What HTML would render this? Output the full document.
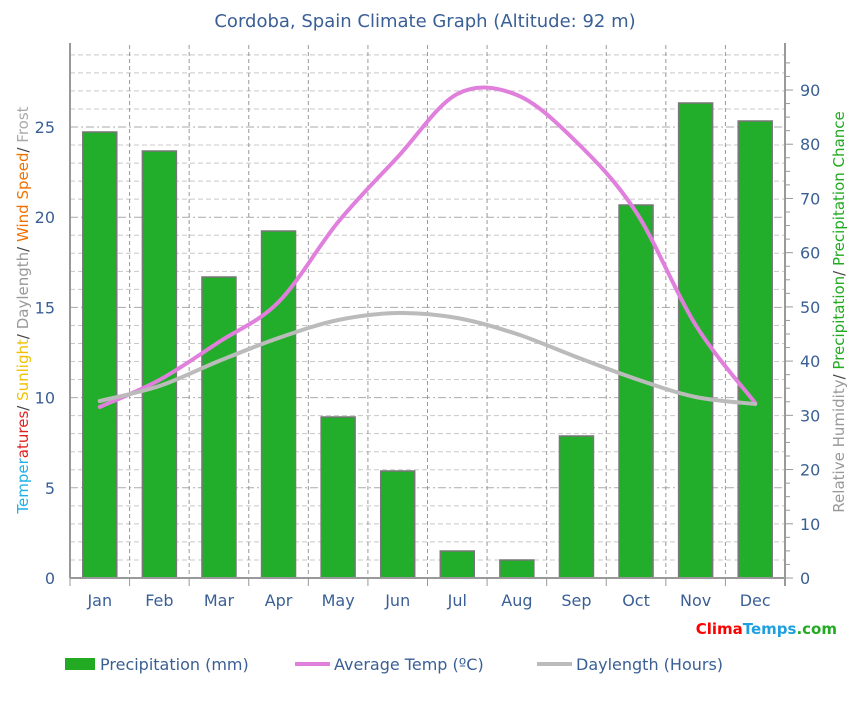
<!DOCTYPE html>
<html><head><meta charset="utf-8"><style>
body{margin:0;background:#fff;}
svg{display:block;font-family:"DejaVu Sans","Liberation Sans",sans-serif;}
</style></head><body>
<svg id="s" width="851" height="719" viewBox="0 0 851 719" xmlns="http://www.w3.org/2000/svg">
<rect width="851" height="719" fill="#fff"/>
<text x="425" y="27" text-anchor="middle" font-size="18" fill="#3a5f95">Cordoba, Spain Climate Graph (Altitude: 92 m)</text>
<g id="grid"></g>
<g id="bars"></g>
<path id="tline" fill="none" stroke="#e080dc" stroke-width="4" stroke-linecap="round"/>
<path id="dline" fill="none" stroke="#bbbbbb" stroke-width="4" stroke-linecap="round"/>
<g id="axes"></g>
<text transform="translate(28,310) rotate(-90)" text-anchor="middle" font-size="15"><tspan fill="#20b0e8">Temper</tspan><tspan fill="#e02020">atures</tspan><tspan fill="#444">/ </tspan><tspan fill="#f0c000">Sunlight</tspan><tspan fill="#444">/ </tspan><tspan fill="#999">Daylength</tspan><tspan fill="#444">/ </tspan><tspan fill="#f07000">Wind Speed</tspan><tspan fill="#444">/ </tspan><tspan fill="#aaa">Frost</tspan></text>
<text transform="translate(844,312) rotate(-90)" text-anchor="middle" font-size="15"><tspan fill="#999">Relative Humidity</tspan><tspan fill="#444">/ </tspan><tspan fill="#22aa22">Precipitation</tspan><tspan fill="#444">/ </tspan><tspan fill="#22aa22">Precipitation Chance</tspan></text>
<text x="837" y="634" text-anchor="end" font-size="15" font-weight="bold"><tspan fill="#ff0000">Clima</tspan><tspan fill="#1ea0e0">Temps</tspan><tspan fill="#22aa22">.com</tspan></text>
<rect x="65" y="658" width="30" height="12" fill="#22aa22"/>
<text x="100" y="670" font-size="16" fill="#3a5f95">Precipitation (mm)</text>
<line x1="295" y1="664" x2="330" y2="664" stroke="#e080dc" stroke-width="4"/>
<text x="334" y="670" font-size="16" fill="#3a5f95">Average Temp (ºC)</text>
<line x1="537" y1="664" x2="572" y2="664" stroke="#bbbbbb" stroke-width="4"/>
<text x="576" y="670" font-size="16" fill="#3a5f95">Daylength (Hours)</text>
</svg>
<script>
var NS="http://www.w3.org/2000/svg";
function el(p,t,a,txt){var e=document.createElementNS(NS,t);for(var k in a)e.setAttribute(k,a[k]);if(txt!=null)e.textContent=txt;document.getElementById(p).appendChild(e);return e;}
var L=70,R=785,T=45,B=578,W=(R-L)/12;
function mx(i){return L+(i+0.5)*W;}
for(var u=1;u<=29;u++){var y=B-u*18.04;var lab=u%5==0;
el("grid","line",{x1:L,x2:R,y1:y,y2:y,stroke:lab?"#aaa":"#c8c8c8","stroke-dasharray":lab?"8,3,2,3":"5,3","stroke-width":1});}
for(var i=1;i<12;i++){var x=L+i*W;el("grid","line",{x1:x,x2:x,y1:T,y2:B,stroke:"#999","stroke-dasharray":"4,3"});}
var tops=[132,151,277,231,417,471,551,560,436,205,103,121];
var months=["Jan","Feb","Mar","Apr","May","Jun","Jul","Aug","Sep","Oct","Nov","Dec"];
for(var i=0;i<12;i++){var c=mx(i);el("bars","rect",{x:c-17,y:tops[i],width:34,height:B-tops[i],fill:"#22ae2a",stroke:"#777","stroke-width":1.5});
el("axes","text",{x:c,y:606,"text-anchor":"middle","font-size":16,fill:"#3a5f95"},months[i]);}
el("axes","line",{x1:L,x2:L,y1:T-2,y2:B,stroke:"#999","stroke-width":2});
el("axes","line",{x1:R,x2:R,y1:T-2,y2:B+8,stroke:"#999","stroke-width":2});
el("axes","line",{x1:L,x2:R,y1:B,y2:B,stroke:"#999","stroke-width":2});
for(var i=0;i<=12;i++){var x=L+i*W;el("axes","line",{x1:x,x2:x,y1:B,y2:B+8,stroke:"#999"});}
for(var v=0;v<=25;v+=5){el("axes","text",{x:55,y:B-v*18.04+6,"text-anchor":"end","font-size":16,fill:"#3a5f95"},v);}
var rp=(B-90)/90;
for(var v=0;v<=95;v+=2.5){var y=B-v*rp;if(y<T)break;el("axes","line",{x1:R,x2:R+(v%10==0?8:5),y1:y,y2:y,stroke:"#999"});}
for(var v=0;v<=90;v+=10){el("axes","text",{x:800,y:B-v*rp+6,"font-size":16,fill:"#3a5f95"},v);}
function path(pts){var d="M"+pts[0][0]+","+pts[0][1];for(var i=0;i<pts.length-1;i++){var p0=pts[Math.max(0,i-1)],p1=pts[i],p2=pts[i+1],p3=pts[Math.min(pts.length-1,i+2)];
d+=" C"+(p1[0]+(p2[0]-p0[0])/6)+","+(p1[1]+(p2[1]-p0[1])/6)+" "+(p2[0]-(p3[0]-p1[0])/6)+","+(p2[1]-(p3[1]-p1[1])/6)+" "+p2[0]+","+p2[1];}return d;}
var ty=[407,380,342,302,222,157,94,95,142,212,325,403];
var dy=[401,386,361,338,320,313,318,334,357,379,397,404];
document.getElementById("tline").setAttribute("d",path(ty.map(function(y,i){return[mx(i),y]})));
document.getElementById("dline").setAttribute("d",path(dy.map(function(y,i){return[mx(i),y]})));
</script>
</body></html>
